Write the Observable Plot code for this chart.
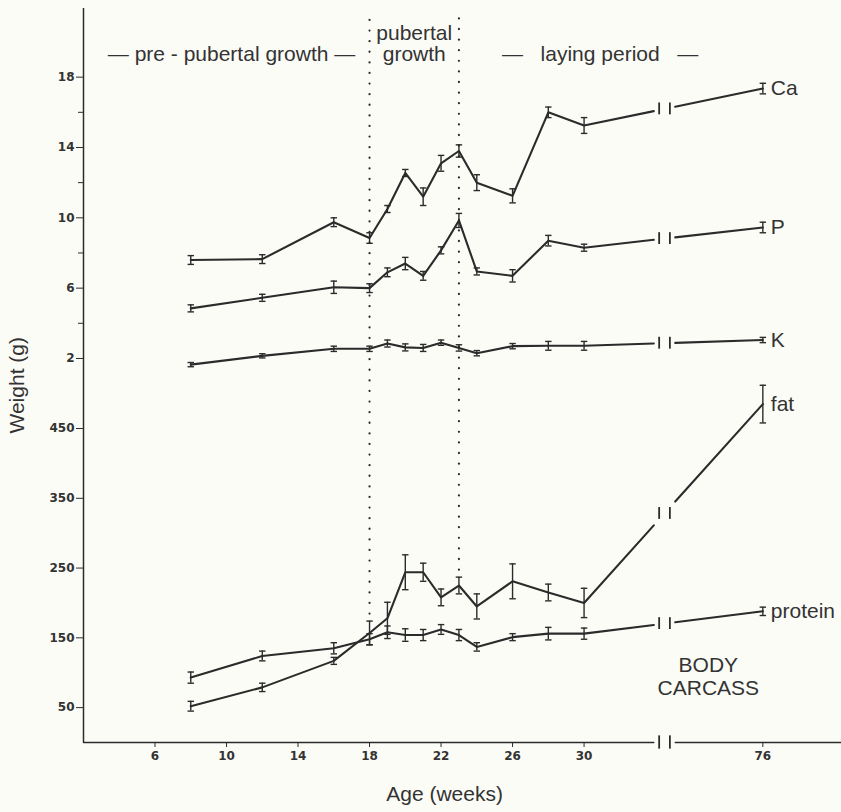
<!DOCTYPE html>
<html><head><meta charset="utf-8">
<script src="https://cdn.jsdelivr.net/npm/d3@7"></script>
<script src="https://cdn.jsdelivr.net/npm/@observablehq/plot@0.6"></script>
<style>
html,body{margin:0;padding:0;background:#fcfcf7;}
#chart svg{display:block;}
</style></head><body><div id="chart"></div>
<script>
// ---- data ----
const weeks = [8, 12, 16, 18, 19, 20, 21, 22, 23, 24, 26, 28, 30, 76];
const ca      = [7.6, 7.65, 9.75, 8.85, 10.5, 12.55, 11.2, 13.1, 13.8, 12.0, 11.25, 16.0, 15.25, 17.35];
const caErr   = [0.25, 0.25, 0.25, 0.3, 0.2, 0.2, 0.5, 0.45, 0.35, 0.45, 0.4, 0.3, 0.45, 0.3];
const phos    = [4.85, 5.45, 6.05, 6.0, 6.9, 7.4, 6.7, 8.15, 9.85, 6.95, 6.7, 8.7, 8.3, 9.45];
const phosErr = [0.2, 0.2, 0.35, 0.25, 0.25, 0.35, 0.25, 0.2, 0.4, 0.2, 0.35, 0.3, 0.2, 0.3];
const pot     = [1.65, 2.15, 2.55, 2.55, 2.85, 2.63, 2.6, 2.9, 2.6, 2.3, 2.7, 2.72, 2.72, 3.05];
const potErr  = [0.12, 0.12, 0.15, 0.15, 0.2, 0.2, 0.2, 0.15, 0.18, 0.15, 0.15, 0.25, 0.25, 0.15];
const fat     = [52, 79, 117, 157, 178, 244, 244, 208, 225, 195, 231, 215, 200, 485];
const fatErr  = [7, 6, 5, 17, 23, 25, 13, 12, 12, 18, 25, 12, 21, 27];
const protein    = [93, 124, 135, 148, 158, 154, 154, 162, 154, 137, 151, 156, 156, 188];
const proteinErr = [8, 7, 8, 8, 9, 9, 8, 7, 8, 6, 5, 9, 8, 6];

const xTicks = [6, 10, 14, 18, 22, 26, 30, 76];
const mineralTicks = [2, 6, 10, 14, 18];
const mineralMinor = [4, 8, 12, 16];
const carcassTicks = [50, 150, 250, 350, 450];
const phaseWeeks = [18, 23];
const seriesNames = ["Ca", "P", "K", "fat", "protein"];

// ---- broken-axis helpers ----
const xPos = w => (w === 76 ? 40 : w);         // x axis break between 30 and 76
const mPos = g => 500 + 25.2 * g;               // mineral panel (g) stacked above carcass panel
const cPos = v => v;
const BRK = 34.5, GAP = 0.6, BAR = 0.3, BARH = 8.5;

const series = [
  {name: seriesNames[0], v: ca, e: caErr, f: mPos},
  {name: seriesNames[1], v: phos, e: phosErr, f: mPos},
  {name: seriesNames[2], v: pot, e: potErr, f: mPos},
  {name: seriesNames[3], v: fat, e: fatErr, f: cPos},
  {name: seriesNames[4], v: protein, e: proteinErr, f: cPos}
];

const pts = series.flatMap(s => weeks.map((w, i) => ({
  name: s.name, x: xPos(w), y: s.f(s.v[i]),
  lo: s.f(s.v[i] - s.e[i]), hi: s.f(s.v[i] + s.e[i])
})));

const segs = [], bars = [], labels = [];
for (const s of series) {
  const r = pts.filter(d => d.name === s.name);
  const a = r[r.length - 2], b = r[r.length - 1];
  const at = p => a.y + (b.y - a.y) * (p - a.x) / (b.x - a.x);
  r.slice(0, -1).forEach(d => segs.push({z: s.name + "1", x: d.x, y: d.y}));
  segs.push({z: s.name + "1", x: BRK - GAP, y: at(BRK - GAP)});
  segs.push({z: s.name + "2", x: BRK + GAP, y: at(BRK + GAP)});
  segs.push({z: s.name + "2", x: b.x, y: b.y});
  const yb = at(BRK);
  bars.push({x: BRK - BAR, y1: yb - BARH, y2: yb + BARH});
  bars.push({x: BRK + BAR, y1: yb - BARH, y2: yb + BARH});
  labels.push({x: b.x, y: b.y, text: s.name});
}
// x axis line with break
const XMIN = 2, XMAX = 44.4, YMAX = 1052;
const axisSegs = [
  {z: "a", x: XMIN, y: 0}, {z: "a", x: BRK - GAP, y: 0},
  {z: "b", x: BRK + GAP, y: 0}, {z: "b", x: XMAX, y: 0}
];
const axisBars = [BRK - BAR, BRK + BAR].map(x => ({x, y1: -BARH - 1, y2: BARH + 1}));

const dotted = phaseWeeks.map(w => {
  const i = weeks.indexOf(w);
  return {x: xPos(w), y1: fat[i] + fatErr[i] + 10, y2: YMAX - 8};
});

const ink = "#2b2b2b", txt = "#333";
const font = "Liberation Sans, Arial, sans-serif";
const tickFont = "DejaVu Sans, Verdana, sans-serif";
const FS = 21;

const chart = Plot.plot({
  width: 841, height: 812,
  marginLeft: 83, marginRight: 0, marginTop: 8, marginBottom: 70,
  x: {domain: [XMIN, XMAX]},
  y: {domain: [0, YMAX]},
  style: {fontFamily: font, background: "#fcfcf7", color: txt},
  marks: [
    // axes lines
    Plot.ruleX([XMIN], {y1: 0, y2: YMAX, stroke: ink, strokeWidth: 1.5}),
    Plot.line(axisSegs, {x: "x", y: "y", z: "z", stroke: ink, strokeWidth: 1.5}),
    Plot.ruleX(axisBars, {x: "x", y1: "y1", y2: "y2", stroke: ink, strokeWidth: 1.8}),
    Plot.axisX(xTicks.map(xPos), {
      tickSize: 5, tickPadding: 4, tickFormat: d => (d === 40 ? "76" : String(d)),
      fontSize: 12, fontWeight: "bold", fontFamily: tickFont, label: null, stroke: ink, fill: txt
    }),
    Plot.axisY(carcassTicks, {
      tickSize: 7, tickPadding: 2, tickFormat: d => String(d),
      fontSize: 12, fontWeight: "bold", fontFamily: tickFont, label: null, stroke: ink, fill: txt
    }),
    Plot.axisY(mineralTicks.map(mPos), {
      tickSize: 7, tickPadding: 2, tickFormat: d => String(Math.round((d - 500) / 25.2)),
      fontSize: 12, fontWeight: "bold", fontFamily: tickFont, label: null, stroke: ink, fill: txt
    }),
    Plot.axisY(mineralMinor.map(mPos), {
      tickSize: 5, tickFormat: () => "", label: null, stroke: ink
    }),
    // phase dotted lines
    Plot.ruleX(dotted, {x: "x", y1: "y1", y2: "y2", stroke: ink, strokeWidth: 2.2,
      strokeDasharray: "0.1,10.5", strokeLinecap: "round"}),
    // data lines
    Plot.line(segs, {x: "x", y: "y", z: "z", stroke: ink, strokeWidth: 2.1}),
    Plot.ruleX(pts, {x: "x", y1: "lo", y2: "hi", stroke: ink, strokeWidth: 1.4}),
    Plot.link(pts, {x1: d => d.x - 0.18, x2: d => d.x + 0.18, y1: "lo", y2: "lo", stroke: ink, strokeWidth: 1.4}),
    Plot.link(pts, {x1: d => d.x - 0.18, x2: d => d.x + 0.18, y1: "hi", y2: "hi", stroke: ink, strokeWidth: 1.4}),
    Plot.ruleX(bars, {x: "x", y1: "y1", y2: "y2", stroke: ink, strokeWidth: 1.8}),
    // series labels
    Plot.text(labels, {x: "x", y: "y", text: "text", dx: 8, textAnchor: "start",
      fontSize: FS, fill: txt}),
    // annotations
    Plot.text(["— pre - pubertal growth —"], {x: 10.28, y: 987, text: d => d, fontSize: FS, fill: txt}),
    Plot.text(["pubertal"], {x: 20.5, y: 1017, text: d => d, fontSize: FS, fill: txt}),
    Plot.text(["growth"], {x: 20.5, y: 987, text: d => d, fontSize: FS, fill: txt}),
    Plot.text(["—   laying period   —"], {x: 30.9, y: 987, text: d => d, fontSize: FS, fill: txt}),
    Plot.text(["BODY\nCARCASS"], {x: 36.95, y: 95, text: d => d, fontSize: FS, fill: txt, lineHeight: 1.1}),
    Plot.text(["Age (weeks)"], {x: 22.2, frameAnchor: "bottom", dy: 58, text: d => d, fontSize: FS, fill: txt}),
    Plot.text(["Weight (g)"], {y: 512, frameAnchor: "left", dx: -66, rotate: -90, textAnchor: "middle",
      text: d => d, fontSize: FS, fill: txt})
  ]
});
document.getElementById("chart").appendChild(chart);
</script>
</body></html>
